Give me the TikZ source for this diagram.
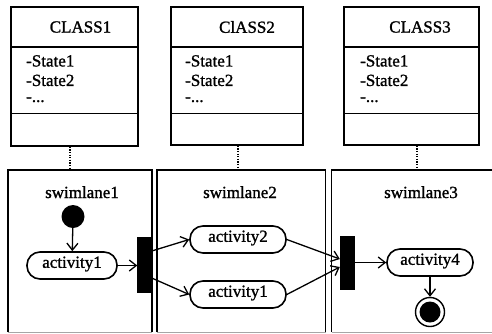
\documentclass[tikz,border=0pt]{standalone}
\usepackage{fontspec}
\setmainfont{Liberation Serif}
\newfontfamily\diagfont{Liberation Serif}[FakeBold=1.2]
\usetikzlibrary{arrows.meta}

\tikzset{
  line/.style={line width=1.4pt},
  classbox/.style={line, draw, rectangle, inner sep=0pt},
  classtitle/.style={inner sep=0pt},
  attr/.style={inner sep=0pt, anchor=north west, align=left},
  lanetitle/.style={inner sep=0pt, anchor=base},
  activity/.style={line width=1.6pt, draw, rectangle, rounded corners=13pt,
    minimum height=27pt, inner sep=0pt, text height=0.68em, text depth=0.22em},
  bar/.style={fill=black, draw=black, inner sep=0pt},
  flow/.style={line width=1.3pt, -{Straight Barb[length=7pt,width=11pt,line width=1.3pt]}},
  link/.style={line width=1.2pt, dash pattern=on 1.2pt off 1.4pt},
}

\begin{document}
\begin{tikzpicture}[x=1pt, y=-1pt, font=\diagfont\fontsize{17}{20}\selectfont]
\useasboundingbox (0,0) rectangle (492,333);

% ---- class boxes ----
\node[classbox, minimum width=127pt, minimum height=139pt] (c1) at (74.5,76.5) {};
\node[classbox, minimum width=132pt, minimum height=138pt] (c2) at (237,76) {};
\node[classbox, minimum width=135pt, minimum height=138pt] (c3) at (411.5,76) {};
\foreach \c in {c1,c2,c3}{
  \draw[line] (\c.west |- 0,47) -- (\c.east |- 0,47);
  \draw[line] (\c.west |- 0,113.5) -- (\c.east |- 0,113.5);
}
\node[classtitle] (t1) at (80.5,27) {CLASS1};
\node[classtitle] (t2) at (247,27) {ClASS2};
\node[classtitle] (t3) at (420,27) {CLASS3};

% attribute compartments
\foreach \c/\x in {1/26, 2/185, 3/360}{
  \node[attr] (s\c) at (\x,55) {-State1\\[-0.5pt]-State2\\[-4pt]-...};
}

% ---- swimlanes ----
\coordinate (l1tl) at (8,170);   \coordinate (l1br) at (152,332);
\coordinate (l2tl) at (157,170); \coordinate (l2br) at (325.5,332);
\coordinate (l3tl) at (331.5,170); \coordinate (l3br) at (496,332);
\foreach \l in {1,2,3}{
  \draw[line] (l\l tl |- l\l br) -- (l\l tl) -- (l\l tl -| l\l br) -- (l\l br);
  \draw[line width=1pt, black!35] (l\l tl |- l\l br) -- (l\l br);
}
\node[lanetitle] (n1) at (82,198) {swimlane1};
\node[lanetitle] (n2) at (240,198) {swimlane2};
\node[lanetitle] (n3) at (421,198) {swimlane3};

% class-to-lane links
\draw[link] (c1.south -| 70,0) -- (l1tl -| 70,0);
\draw[link] (c2.south -| 238,0) -- (l2tl -| 238,0);
\draw[link] (c3.south -| 417,0) -- (l3tl -| 417,0);

% ---- activity flow ----
\node[circle, fill=black, minimum size=23pt, inner sep=0pt] (init) at (73,216.5) {};
\node[activity, minimum width=90pt] (a1) at (72,265.5) {activity1};
\node[bar, minimum width=14pt, minimum height=55pt] (b1) at (144.5,264.5) {};
\node[activity, minimum width=96pt] (a2) at (238,239.5) {activity2};
\node[activity, minimum width=96pt] (a1b) at (238,294.5) {activity1};
\node[bar, minimum width=14pt, minimum height=53pt] (b2) at (347,262.5) {};
\node[activity, minimum width=86pt] (a4) at (430,262.5) {activity4};
\node[circle, draw, line width=1.4pt, minimum size=29pt, inner sep=0pt] (fin) at (430,312) {};
\node[circle, fill=black, minimum size=21pt, inner sep=0pt] (finc) at (fin.center) {};

\draw[flow] (init) -- (a1);
\draw[flow] (a1) -- (a1 -| b1.west);
\draw[flow] (b1.east |- 0,251) -- (a2.west);
\draw[flow] (b1.east |- 0,278) -- (a1b.west);
\draw[flow] (a2.east) -- (b2.west |- 0,259);
\draw[flow] (a1b.east) -- (b2.west |- 0,267);
\draw[flow] (b2.east |- a4) -- (a4.west);
\draw[flow] (a4.south) -- (fin.north);
\end{tikzpicture}
\end{document}
